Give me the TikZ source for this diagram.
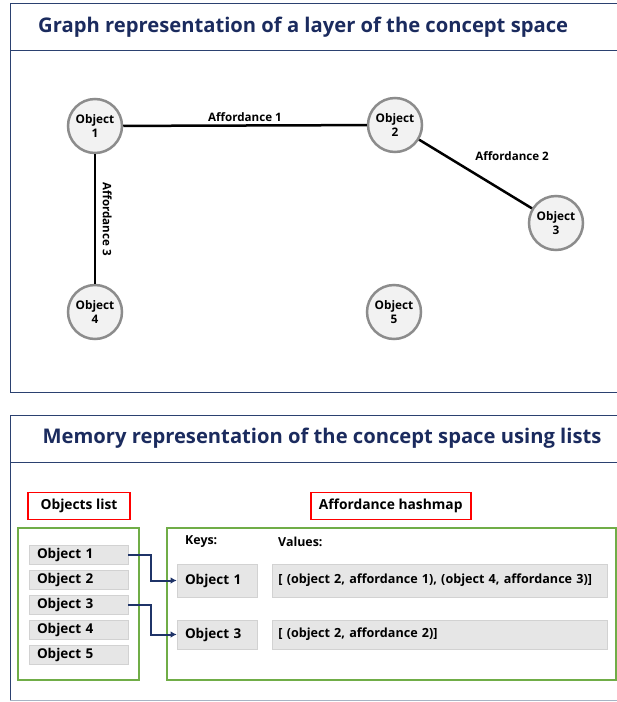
\documentclass[tikz,border=0pt]{standalone}
\usepackage{fontspec}
\setmainfont{Open Sans}
\usetikzlibrary{arrows.meta}
\definecolor{navy}{HTML}{1B2B5E}
\definecolor{panelc}{HTML}{2B4170}
\definecolor{botc}{HTML}{A7B4C4}
\definecolor{circd}{HTML}{8C8C8C}
\definecolor{circf}{HTML}{F2F2F2}
\definecolor{itemf}{HTML}{E6E6E6}
\definecolor{itemd}{HTML}{D2D2D2}
\definecolor{grn}{HTML}{70AD47}
\definecolor{rd}{HTML}{FF0000}
\definecolor{arrc}{HTML}{1F3468}
\tikzset{
  paneline/.style={draw=panelc, line width=1pt},
  titletext/.style={text=navy, font=\fontsize{20.2}{22}\selectfont\bfseries, inner sep=0pt},
  obj/.style={circle, draw=circd, fill=circf, line width=2.5pt, minimum size=54pt, inner sep=0pt, align=center, font=\fontsize{11.8}{14.5}\selectfont\bfseries},
  edge/.style={draw=black, line width=2.5pt},
  elab/.style={font=\fontsize{11.6}{13}\selectfont\bfseries, inner sep=1.5pt},
  item/.style={fill=itemf, draw=itemd, line width=0.6pt, minimum height=19pt, text width=83pt, align=left, inner xsep=8pt, inner ysep=0pt, font=\fontsize{13.5}{15}\selectfont\bfseries},
  kbox/.style={fill=itemf, draw=itemd, line width=0.6pt, text width=64pt, align=left, inner xsep=8pt, inner ysep=0pt, font=\fontsize{13.5}{15}\selectfont\bfseries},
  vbox/.style={fill=itemf, draw=itemd, line width=0.6pt, text width=322pt, align=left, inner xsep=6.5pt, inner ysep=0pt, font=\fontsize{12.6}{14}\selectfont\bfseries},
  gbox/.style={draw=grn, line width=1.8pt, inner sep=0pt},
  rbox/.style={draw=rd, line width=1.8pt, fill=white, inner sep=0pt, font=\fontsize{13.8}{15}\selectfont\bfseries},
  lab/.style={font=\fontsize{12.4}{14}\selectfont\bfseries, inner sep=0pt},
  arr/.style={draw=arrc, line width=2pt, -{Latex[length=6pt,width=6.5pt]}},
}
\begin{document}
\begin{tikzpicture}[x=1pt,y=-1pt]
\useasboundingbox (0,0) rectangle (617,702);
\clip (0,0) rectangle (617,702);
% top panel
\draw[paneline] (10,3) rectangle (640,392);
\draw[paneline] (10,50) -- (640,50);
\node[titletext, anchor=west] (t1) at (38,27) {Graph representation of a layer of the concept space};
% graph
\node[obj] (o1) at (95,126) {Object\\1};
\node[obj] (o2) at (395,125) {Object\\2};
\node[obj] (o3) at (556,223) {Object\\3};
\node[obj] (o4) at (95,312) {Object\\4};
\node[obj] (o5) at (394,312) {Object\\5};
\draw[edge] (o1) -- (o2) node[elab, midway, above, yshift=1pt] {Affordance 1};
\draw[edge] (o2) -- (o3) node[elab, midway, anchor=south west, xshift=-3pt, yshift=11pt] {Affordance 2};
\draw[edge] (o1) -- (o4) node[elab, midway, rotate=-90, anchor=south, yshift=5pt] {Affordance 3};
% bottom panel
\draw[draw=botc, line width=1pt] (10,700) -- (640,700);
\draw[paneline] (10,700) -- (10,415) -- (640,415);
\draw[paneline] (10,462) -- (640,462);
\node[titletext] (t2) at (322,438) {Memory representation of the concept space using lists};
% lists
\node[rbox, minimum width=102pt, minimum height=27pt] (ol) at (79,506) {Objects list};
\node[rbox, minimum width=160pt, minimum height=27pt] (ah) at (390.7,506) {Affordance hashmap};
\node[gbox, minimum width=121pt, minimum height=152pt] (lst) at (78.5,604) {};
\node[gbox, minimum width=449pt, minimum height=152pt] (hm) at (391.2,604) {};
\node[item] (i1) at (78.5,554.5) {Object 1};
\node[item] (i2) at (78.5,579.5) {Object 2};
\node[item] (i3) at (78.5,604.5) {Object 3};
\node[item] (i4) at (78.5,629.5) {Object 4};
\node[item] (i5) at (78.5,654.5) {Object 5};
\node[lab, anchor=west] (keys) at (185,542) {Keys:};
\node[lab, anchor=west] (vals) at (278,542) {Values:};
\node[kbox, minimum height=33pt] (k1) at (217,580.5) {Object 1};
\node[kbox, minimum height=29pt] (k3) at (217,634.5) {Object 3};
\node[vbox, minimum height=33pt] (v1) at (439.4,580.5) {[ (object 2, affordance 1), (object 4, affordance 3)]};
\node[vbox, minimum height=29pt] (v3) at (439.4,634.5) {[ (object 2, affordance 2)]};
\draw[arr] (i1.east) -- ++(23,0) |- (k1.west);
\draw[arr] (i3.east) -- ++(23,0) |- (k3.west);
\end{tikzpicture}
\end{document}
